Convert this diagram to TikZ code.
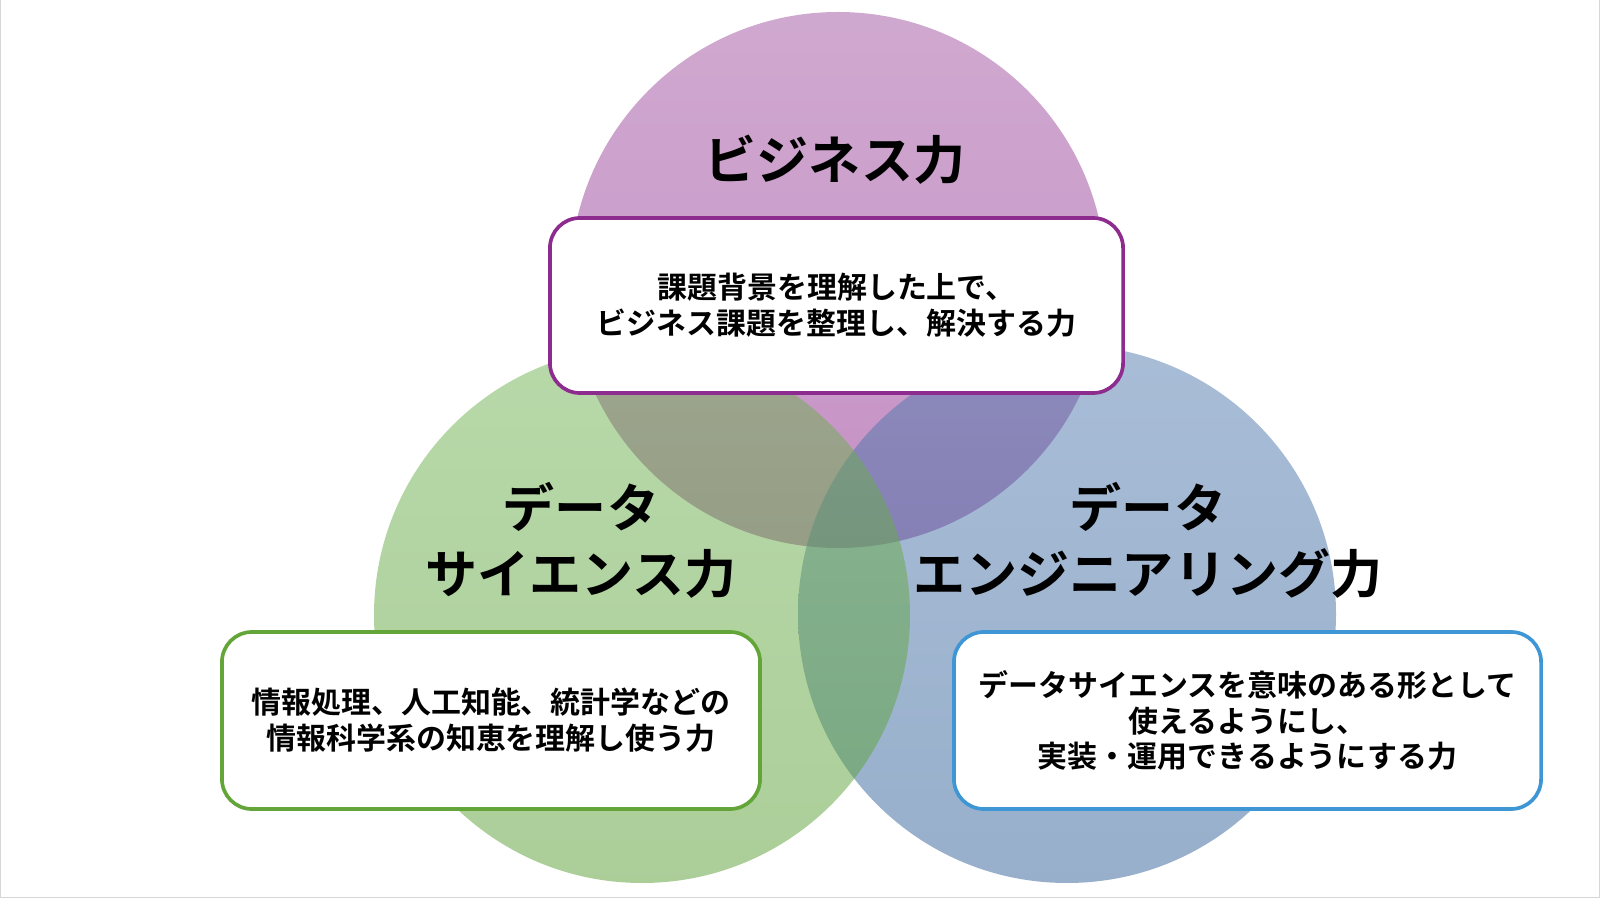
\documentclass[tikz,border=0pt]{standalone}
\usepackage{fontspec}
\newfontfamily\jpfont{Noto Sans CJK JP}[BoldFont={Noto Sans CJK JP Bold}]
\usetikzlibrary{positioning}
\definecolor{bizpurpletop}{RGB}{160,82,160}
\definecolor{bizpurplebot}{RGB}{140,36,140}
\definecolor{scigreentop}{RGB}{112,178,82}
\definecolor{scigreenbot}{RGB}{88,158,52}
\definecolor{engbluetop}{RGB}{82,122,174}
\definecolor{engbluebot}{RGB}{48,96,152}
\definecolor{bizline}{RGB}{142,43,142}
\definecolor{sciline}{RGB}{99,165,56}
\definecolor{engline}{RGB}{62,150,212}
\definecolor{framegray}{RGB}{214,214,214}

\begin{document}
\begin{tikzpicture}[x=0.025cm, y=-0.025cm,
  skill/.style={opacity=.5},
  infobox/.style={draw, line width=2.6pt, rounded corners=0.75cm, fill=white,
    align=center, inner sep=0pt, text=black,
    font=\jpfont\bfseries\fontsize{21.3}{25.5}\selectfont},
  skilltitle/.style={align=center, inner sep=0pt,
    font=\jpfont\bfseries\fontsize{37}{47}\selectfont}]
\useasboundingbox (0,0) rectangle (1600,898);
\fill[framegray] (0,0) rectangle (1.2,898);
\fill[framegray] (1598.6,0) rectangle (1600,898);
\fill[framegray] (0,896.6) rectangle (1600,898);

\coordinate (biz) at (838,280);
\coordinate (sci) at (642,615);
\coordinate (eng) at (1067,614);

\shade[skill, top color=bizpurpletop, bottom color=bizpurplebot] (biz) circle[radius=268];
\shade[skill, top color=engbluetop, bottom color=engbluebot] (eng) circle[radius=269];
\shade[skill, top color=scigreentop, bottom color=scigreenbot] (sci) circle[radius=268];

\node[skilltitle] (biztitle) at (835,160) {ビジネス力};
\node[skilltitle] (scititle) at (581,540) {データ\\サイエンス力};
\node[skilltitle] (engtitle) at (1148,540) {データ\\エンジニアリング力};

\node[infobox, draw=bizline, minimum width=14.325cm, minimum height=4.375cm]
  (bizbox) at (836.5,305.5) {課題背景を理解した上で、\\ビジネス課題を整理し、解決する力};
\node[infobox, draw=sciline, minimum width=13.45cm, minimum height=4.425cm]
  (scibox) at (491,720.5) {情報処理、人工知能、統計学などの\\情報科学系の知恵を理解し使う力};
\node[infobox, draw=engline, minimum width=14.675cm, minimum height=4.425cm]
  (engbox) at (1247.5,720.5) {データサイエンスを意味のある形として\\使えるようにし、\\実装・運用できるようにする力};
\end{tikzpicture}
\end{document}
